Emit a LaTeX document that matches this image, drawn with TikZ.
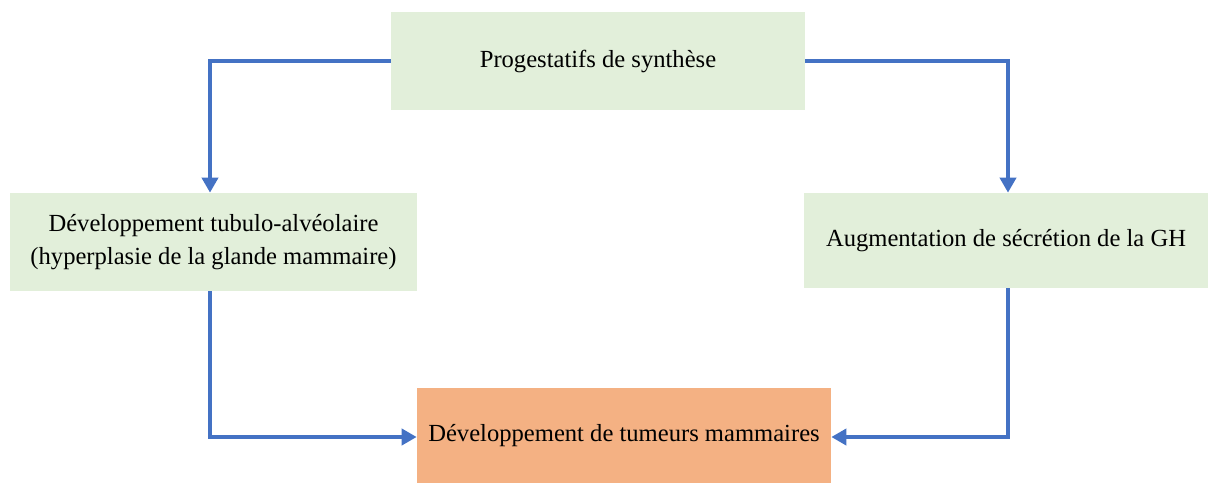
\documentclass[tikz,border=0pt]{standalone}
\usepackage{fontspec}
\setmainfont{Liberation Serif}
\usetikzlibrary{arrows.meta}
\definecolor{boxgreen}{HTML}{E2EFDA}
\definecolor{boxorange}{HTML}{F4B183}
\definecolor{arrowblue}{HTML}{4472C4}
\begin{document}
\begin{tikzpicture}[x=0.02cm,y=-0.02cm,
  greenbox/.style={fill=boxgreen,draw=none,inner sep=0pt,align=center,font=\fontsize{14}{18.7}\selectfont},
  orangebox/.style={fill=boxorange,draw=none,inner sep=0pt,align=center,font=\fontsize{14}{18.7}\selectfont},
  conn/.style={draw=arrowblue,line width=0.085cm,-{Triangle[length=0.3cm,width=0.32cm]}}]
\useasboundingbox (0,0) rectangle (1209,483);
\node[greenbox,minimum width=8.28cm,minimum height=1.96cm] (top) at (598,61) {Progestatifs de synthèse};
\node[greenbox,minimum width=8.14cm,minimum height=1.96cm] (left) at (213.5,242) {Développement tubulo-alvéolaire\\(hyperplasie de la glande mammaire)};
\node[greenbox,minimum width=8.08cm,minimum height=1.9cm] (right) at (1006,240.5) {Augmentation de sécrétion de la GH};
\node[orangebox,minimum width=8.28cm,minimum height=1.9cm] (bottom) at (624,435.5) {Développement de tumeurs mammaires};
\coordinate (c1) at (210,61);
\coordinate (c2) at (1008,61);
\coordinate (c3) at (210,437);
\coordinate (c4) at (1008,437);
\draw[conn] (top.west |- c1) -| (left.north -| c1);
\draw[conn] (top.east |- c2) -| (right.north -| c2);
\draw[conn] (left.south -| c3) |- (bottom.west |- c3);
\draw[conn] (right.south -| c4) |- (bottom.east |- c4);
\end{tikzpicture}
\end{document}
